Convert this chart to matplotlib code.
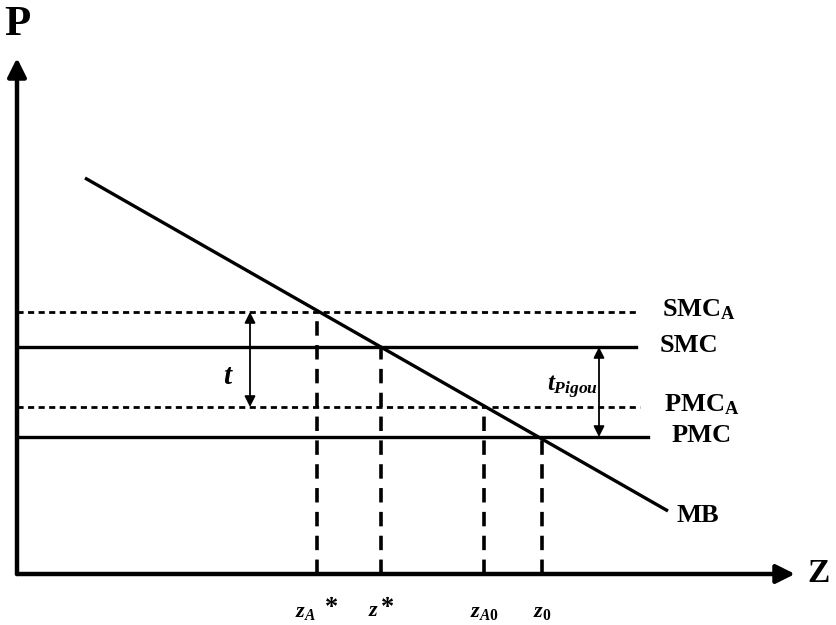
import matplotlib.pyplot as plt
import numpy as np

plt.rcParams['font.family'] = ['Liberation Serif', 'DejaVu Serif']
plt.rcParams['mathtext.fontset'] = 'custom'
plt.rcParams['mathtext.rm'] = 'Liberation Serif:bold'
plt.rcParams['mathtext.it'] = 'Liberation Serif:italic:bold'
plt.rcParams['mathtext.bf'] = 'Liberation Serif:bold'

# demand / marginal benefit line (Z, P)
mb_z = [6.8, 65.1]
mb_p = [39.6, 6.3]

# cost levels
cost_names = ['SMC$_{\\mathrm{A}}$', 'SMC', 'PMC$_{\\mathrm{A}}$', 'PMC']
cost_p = [26.2, 22.7, 16.7, 13.7]
cost_end = [62.1, 61.9, 62.3, 63.1]
cost_dotted = [True, False, True, False]

# quantities
q_labels = ['$z_{A}$', '$z$', '$z_{A0}$', '$z_{0}$']
q_star = [True, True, False, False]
q_z = [30.0, 36.4, 46.7, 52.5]
q_p = [26.2, 22.7, 16.7, 13.7]
lab_shift = [-1.15, -0.75, 0.0, 0.0]
star_shift = [1.5, 0.7, 0.0, 0.0]

fig = plt.figure(figsize=(8.36, 6.25), dpi=100)
ax = fig.add_axes([0, 0, 1, 1])
ax.set_xlim(-1.7, 81.9)
ax.set_ylim(-5.1, 57.4)
ax.axis('off')

# axes with arrows
ax.annotate('', xy=(77.8, 0), xytext=(0, 0),
            arrowprops=dict(arrowstyle='-|>', lw=3.2, color='black',
                            mutation_scale=28, shrinkA=0, shrinkB=0))
ax.annotate('', xy=(0, 51.6), xytext=(0, 0),
            arrowprops=dict(arrowstyle='-|>', lw=3.2, color='black',
                            mutation_scale=28, shrinkA=0, shrinkB=0))
ax.text(0, 54.9, 'P', fontsize=31, fontweight='bold', ha='center', va='center')
ax.text(79.0, 0.1, 'Z', fontsize=24, fontweight='bold', ha='left', va='center')

# MB
ax.plot(mb_z, mb_p, color='black', lw=2.4, solid_capstyle='butt')
ax.text(66.0, 5.9, 'MB', fontsize=19, fontweight='bold', ha='left', va='center')

# cost lines
for name, p, end, dotted in zip(cost_names, cost_p, cost_end, cost_dotted):
    if dotted:
        ax.plot([0, end], [p, p], color='black', lw=2.0, dashes=(2.2, 1.6))
    else:
        ax.plot([0, end], [p, p], color='black', lw=2.4)
    ax.text(end + 2.4, p + 0.2, name, fontsize=19, fontweight='bold',
            ha='left', va='center')

# dashed verticals and tick labels
for lab, star, z, p, ls, ss in zip(q_labels, q_star, q_z, q_p, lab_shift, star_shift):
    ax.plot([z, z], [0, p], color='black', lw=2.6, dashes=(4.0, 2.6))
    ax.text(z + ls, -3.8, lab, fontsize=16, ha='center', va='center')
    if star:
        ax.text(z + ss, -3.35, '*', fontsize=19, fontweight='bold',
                ha='center', va='center')

# tax arrows
ax.annotate('', xy=(23.3, cost_p[0]), xytext=(23.3, cost_p[2]),
            arrowprops=dict(arrowstyle='<|-|>', lw=1.3, color='black',
                            mutation_scale=16, shrinkA=0, shrinkB=0))
ax.text(21.1, 19.7, '$t$', fontsize=21, ha='center', va='center')
ax.annotate('', xy=(58.2, cost_p[1]), xytext=(58.2, cost_p[3]),
            arrowprops=dict(arrowstyle='<|-|>', lw=1.3, color='black',
                            mutation_scale=16, shrinkA=0, shrinkB=0))
ax.text(58.1, 18.7, '$t_{Pigou}$', fontsize=18, ha='right', va='center')

fig.savefig('out.png', dpi=100)
